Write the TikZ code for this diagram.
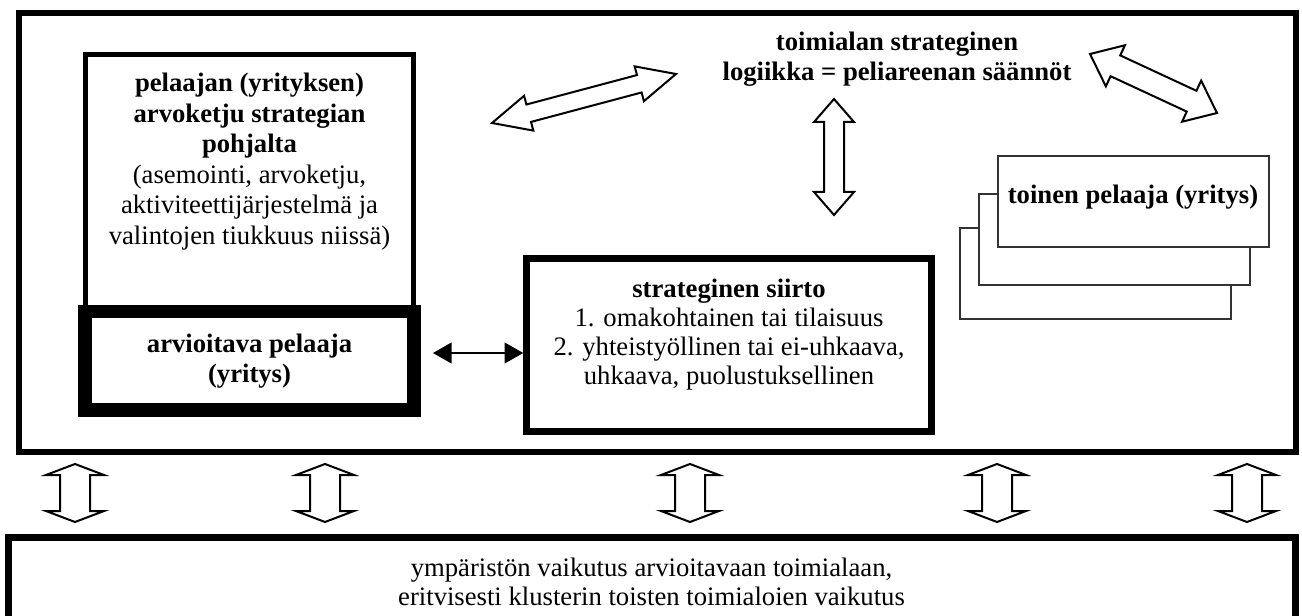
\documentclass[tikz,border=0pt]{standalone}
\usepackage{fontspec}
\setmainfont{Liberation Serif}
\usetikzlibrary{calc,arrows.meta}

% hollow double block arrow between two named points
% #1, #2: tips; #3: head length; #4: head half width; #5: shaft half width
\newcommand{\hollowarrow}[5]{%
  \coordinate (hbA) at ($(#1)!#3!(#2)$);
  \coordinate (hbB) at ($(#2)!#3!(#1)$);
  \draw[blockarrow] (#1) -- ($(hbA)!#4!90:(#2)$) -- ($(hbA)!#5!90:(#2)$)
    -- ($(hbB)!#5!-90:(#1)$) -- ($(hbB)!#4!-90:(#1)$) -- (#2)
    -- ($(hbB)!#4!90:(#1)$) -- ($(hbB)!#5!90:(#1)$)
    -- ($(hbA)!#5!-90:(#2)$) -- ($(hbA)!#4!-90:(#2)$) -- cycle;
}

\begin{document}
\begin{tikzpicture}[x=0.75pt,y=-0.75pt,
  box/.style={draw=black, fill=white, rectangle, inner sep=0pt},
  txt/.style={align=center, inner sep=0pt, text=black},
  body/.style={font=\fontsize{20pt}{22.5pt}\selectfont},
  bodybf/.style={font=\fontsize{20pt}{22.5pt}\selectfont\bfseries},
  tight/.style={font=\fontsize{20pt}{21.75pt}\selectfont},
  stackbox/.style={box, draw=black!80, line width=0.9pt,
    minimum width=203.25pt, minimum height=68.25pt},
  blockarrow/.style={draw=black, fill=white, line width=1.5pt, line join=miter},
  link/.style={line width=1.5pt,
    {Triangle[length=14pt,width=15.5pt]}-{Triangle[length=14pt,width=15.5pt]}}
]
\useasboundingbox (0,0) rectangle (1302,616);
\clip (0,0) rectangle (1302,616);

% the game arena
\node[box, line width=4.5pt, minimum width=957.75pt, minimum height=329.25pt]
  (arena) at (657.5,232.5) {};

% the player's value chain and the assessed player
\node[box, line width=3.75pt, minimum width=246pt, minimum height=192.75pt]
  (chain) at (249.5,183) {};
\node[txt, font=\fontsize{20pt}{22.9pt}\selectfont] (chaintext) at (249.5,161.5)
  {\textbf{pelaajan (yrityksen)}\\\textbf{arvoketju strategian}\\\textbf{pohjalta}\\
   (asemointi, arvoketju,\\aktiviteettijärjestelmä ja\\valintojen tiukkuus niissä)};
\node[box, txt, bodybf, line width=10pt,
  minimum width=246.75pt, minimum height=73.875pt]
  (arv) at (249.5,360.75) {arvioitava pelaaja\\(yritys)};

% strategic move
\node[box, line width=4.9pt, minimum width=303.75pt, minimum height=129.75pt]
  (siirto) at (729,345) {};
\node[txt, tight] (siirtotext) at (729,334.5)
  {\textbf{strateginen siirto}\\1. omakohtainen tai tilaisuus\\
   2. yhteistyöllinen tai ei-uhkaava,\\uhkaava, puolustuksellinen};

% industry logic
\node[txt, bodybf] (logic) at (897,59)
  {toimialan strateginen\\logiikka = peliareenan säännöt};

% the other players, stacked
\node[stackbox] (other3) at (1095.5,273.5) {};
\node[stackbox] (other2) at (1114.5,239.5) {};
\node[stackbox] (other1) at (1133.5,201.5) {};
\node[txt, bodybf] (othertext) at (1133,197) {toinen pelaaja (yritys)};

% environment
\node[box, line width=5.25pt, minimum width=965.25pt, minimum height=61.5pt]
  (env) at (651.5,578) {};
\node[txt, tight] (envtext) at (651.5,582)
  {ympäristön vaikutus arvioitavaan toimialaan,\\eritvisesti klusterin toisten toimialoien vaikutus};

% link between assessed player and the move
\coordinate (linky) at (0,353);
\draw[link, shorten <=9.2pt] (arv.east |- linky) -- (siirto.west |- linky);

% block arrows inside the arena
\coordinate (la) at (492,123);  \coordinate (lb) at (676,74);
\coordinate (ra) at (1090,54);  \coordinate (rb) at (1217,113);
\coordinate (ca) at (834,99);   \coordinate (cb) at (834,215);
\hollowarrow{la}{lb}{28.5pt}{13.5pt}{6.75pt}
\hollowarrow{ra}{rb}{21pt}{17pt}{8.6pt}
\hollowarrow{ca}{cb}{17.25pt}{15pt}{7.5pt}

% arrows between the arena and the environment
\foreach \ax [count=\i] in {75,325,690,997,1247} {
  \coordinate (ea\i) at (\ax,464);
  \coordinate (eb\i) at (\ax,522);
  \hollowarrow{ea\i}{eb\i}{8.25pt}{21.75pt}{11.25pt}
}
\end{tikzpicture}
\end{document}
